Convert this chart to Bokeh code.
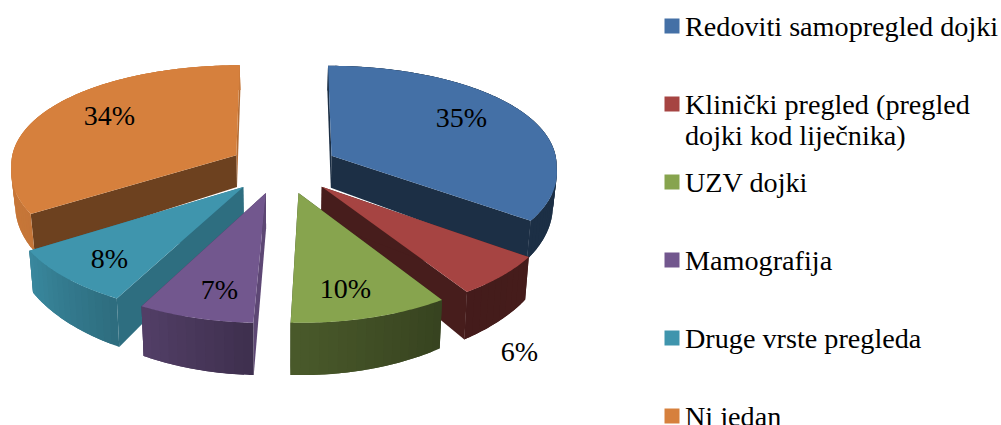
import numpy as np
from bokeh.plotting import figure
from bokeh.core.properties import value
from bokeh.embed import file_html
from bokeh.resources import INLINE

# ---- data ----
categories = ["Redoviti samopregled dojki", "Klinički pregled (pregled\ndojki kod liječnika)",
              "UZV dojki", "Mamografija", "Druge vrste pregleda", "Ni jedan"]
shares = [35, 6, 9.6, 7, 8.4, 34]
share_labels = ["35%", "6%", "10%", "7%", "8%", "34%"]
colors = ["#4470a6", "#a64442", "#87a44e", "#72578e", "#3f95ad", "#d6803d"]

# ---- layout ----
W, H = 1001, 425
CX, CY = 283.5, 167.5
RX, AY, K, K_BACK = 226.0, 105.0, 0.135, 0.08
EXPLODE = 0.238
DEPTH, KD, SHRINK = 33.0, 0.30, 0.985
FONT = "Liberation Serif"
FS = "28.2px"
label_xy = [(461, 117), (519, 351), (345, 288), (219, 289), (109, 258), (109, 115)]
slice_dx = [0, 0, 0, -4, -3.5, -1]
slice_dy = [-1, 0, 0, 0, 0, -1]
face_shade = [(0.42, 0.42), (0.43, 0.43), (0.42, 0.42), (0.82, 0.6), (0.74, 0.74), (0.51, 0.85)]
shade_t = [90, 126, 148, 184, 209, 238, 270, 360]
shade_v = [0.42, 0.42, 0.41, 0.56, 0.74, 0.92, 0.94, 0.94]


def darken(hex_c, f):
    r, g, b = (int(hex_c[i:i + 2], 16) for i in (1, 3, 5))
    return "#%02x%02x%02x" % (int(r * f), int(g * f), int(b * f))


def project(theta, r, i, bottom=False):
    mid = mids[i]
    u = r * np.sin(theta) + EXPLODE * np.sin(mid)
    v = r * np.cos(theta) + EXPLODE * np.cos(mid)
    x = CX + RX * u / (1 + (K_BACK if v > 0 else K) * v)
    y = CY - AY * v / (1 + K * v)
    if bottom:
        x = CX + (x - CX) * SHRINK
        y = y + DEPTH / (1 + KD * v)
    return x + slice_dx[i], y + slice_dy[i]


p = figure(width=W, height=H, x_range=(0, W), y_range=(H, 0),
           output_backend="svg", toolbar_location=None, min_border=0)
p.axis.visible = False
p.grid.visible = False
p.outline_line_color = None

edges = np.cumsum([0] + shares) / sum(shares) * 2 * np.pi
mids = (edges[:-1] + edges[1:]) / 2
order = sorted(range(len(shares)), key=lambda i: -np.cos(mids[i]))

xs, ys, cs = [], [], []


def add(pts, c):
    xs.append([float(a[0]) for a in pts])
    ys.append([float(a[1]) for a in pts])
    cs.append(c)


for i in order:
    a0, a1, m, c = edges[i], edges[i + 1], mids[i], colors[i]
    # cut faces
    for ang, f in zip((a1, a0), face_shade[i][::-1]):
        add([project(m, 0, i), project(ang, 1, i), project(ang, 1, i, True), project(m, 0, i, True)],
            darken(c, f))
    # outer wall, overlapping strips so the shade can vary without seams
    n = max(int(np.degrees(a1 - a0) / 2), 4)
    t = np.linspace(a0, a1, n + 1)
    for j in range(n):
        s = float(np.interp(np.degrees((t[j] + t[j + 1]) / 2), shade_t, shade_v))
        b = t[min(j + 2, n)]
        arc = np.linspace(t[j], b, 6)
        add([project(a, 1, i) for a in arc] + [project(a, 1, i, True) for a in arc[::-1]], darken(c, s))
    # top
    tt = np.linspace(a0, a1, 80)
    add([project(m, 0, i)] + [project(a, 1, i) for a in tt], c)

p.patches(xs, ys, fill_color=cs, line_color=None)

# value labels
p.text([a[0] for a in label_xy], [a[1] for a in label_xy], text=share_labels,
       text_font=value(FONT), text_font_size=value("28px"), text_color="#000000",
       text_align="center", text_baseline="middle")

# legend
lx0, lx1, tx = 664, 679, 684.5
tops = [18, 96, 174, 252, 330, 408]
p.quad(left=[lx0] * 6, right=[lx1] * 6, top=tops, bottom=[t + 15 for t in tops], fill_color=colors, line_color=None)
tx_s, ty_s, tt_s = [], [], []
for cat, t in zip(categories, tops):
    for k, line in enumerate(cat.split("\n")):
        tx_s.append(tx)
        ty_s.append(t + 7.5 + k * 31)
        tt_s.append(line)
p.text(tx_s, ty_s, text=tt_s, text_font=value(FONT), text_font_size=value(FS), text_color="#000000",
       text_align="left", text_baseline="alphabetic")

open("out.html", "w").write(file_html(p, INLINE))
